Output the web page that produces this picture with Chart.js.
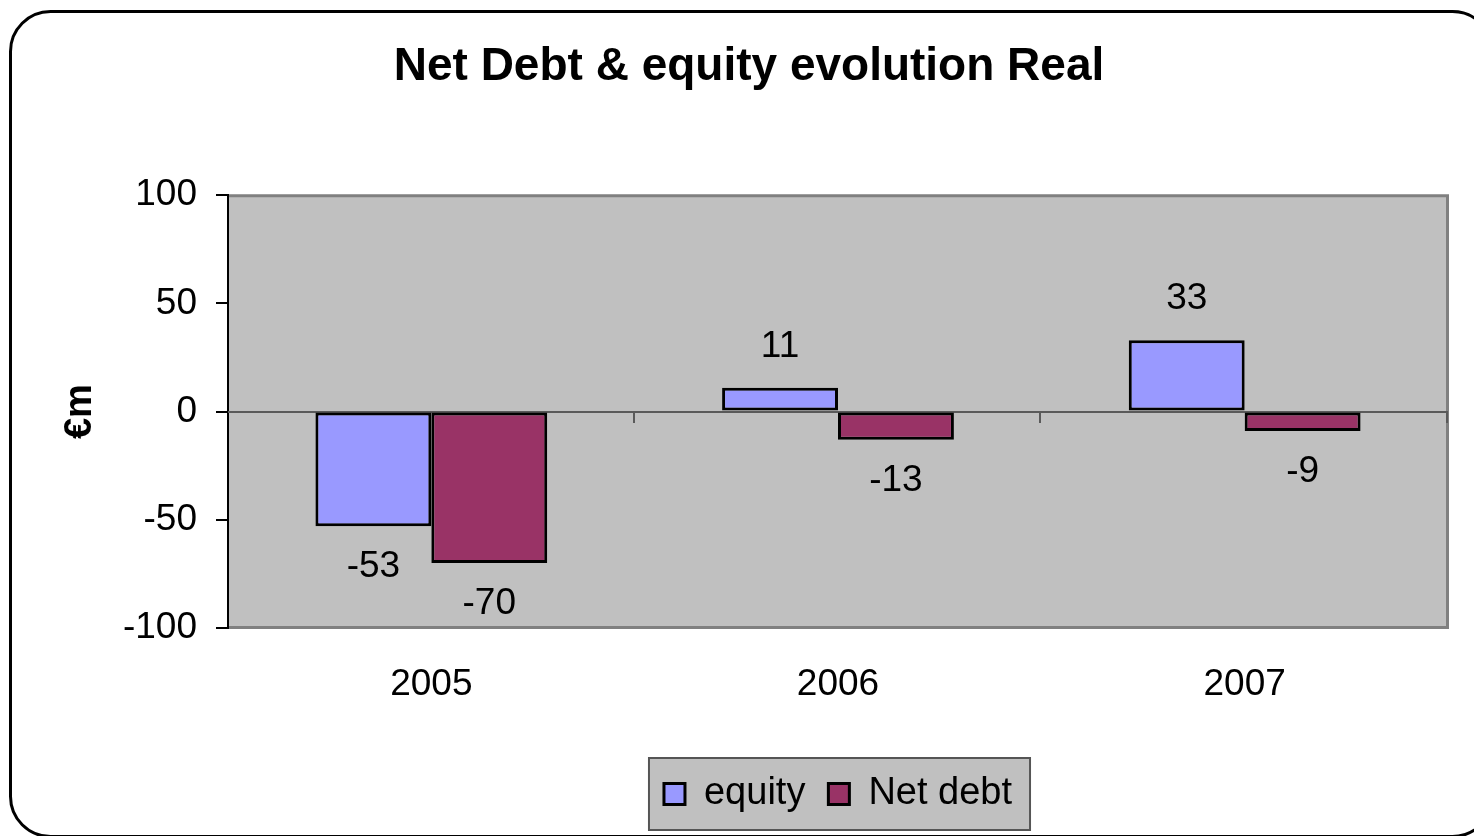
<!DOCTYPE html>
<html><head><meta charset="utf-8">
<script src="https://cdn.jsdelivr.net/npm/chart.js@4.4.1/dist/chart.umd.min.js"></script>
<style>html,body{margin:0;padding:0;background:#fff;} canvas{display:block;}</style>
</head><body>
<canvas id="c" width="1474" height="836"></canvas>
<script>
const categories = ['2005', '2006', '2007'];
const equityValues = [-53, 11, 33];
const netDebtValues = [-70, -13, -9];
const seriesNames = ['equity', 'Net debt'];
const yTickValues = [-100, -50, 0, 50, 100];
const chartTitle = 'Net Debt & equity evolution Real';
const axisTitle = '€m';

const FONT = "'Liberation Sans', Arial, sans-serif";
Chart.defaults.font.family = FONT;
Chart.defaults.color = '#000';

const framePlugin = {
  id: 'frame',
  beforeDraw(chart) {
    const {ctx, chartArea: a} = chart;
    ctx.save();
    ctx.fillStyle = '#fff';
    ctx.fillRect(0, 0, chart.width, chart.height);
    ctx.beginPath();
    ctx.roundRect(10.5, 11.5, 1482, 825, 40);
    ctx.lineWidth = 3; ctx.strokeStyle = '#000'; ctx.stroke();
    ctx.fillStyle = '#C0C0C0';
    ctx.fillRect(a.left, a.top, a.right - a.left, a.bottom - a.top);
    ctx.strokeStyle = '#808080'; ctx.lineWidth = 3;
    ctx.beginPath();
    ctx.moveTo(a.left, a.top + 0.5); ctx.lineTo(a.right - 0.5, a.top + 0.5);
    ctx.lineTo(a.right - 0.5, a.bottom - 0.5); ctx.lineTo(a.left, a.bottom - 0.5);
    ctx.stroke();
    const lg = chart.legend;
    if (lg && lg.legendHitBoxes && lg.legendHitBoxes.length) {
      const hb = lg.legendHitBoxes;
      const last = hb[hb.length - 1];
      const l = hb[0].left - 15, r = last.left + last.width + 18;
      const cy = hb[0].top + hb[0].height / 2;
      ctx.fillStyle = '#C0C0C0';
      ctx.fillRect(l, cy - 36, r - l, 72);
      ctx.strokeStyle = '#555'; ctx.lineWidth = 2;
      ctx.strokeRect(l, cy - 36, r - l, 72);
    }
    ctx.restore();
  },
  beforeDatasetsDraw(chart) {
    const {ctx, chartArea: a, scales: {x, y}} = chart;
    const y0 = Math.round(y.getPixelForValue(0));
    ctx.save();
    ctx.strokeStyle = '#5a5a5a'; ctx.lineWidth = 2;
    ctx.beginPath();
    ctx.moveTo(a.left, y0); ctx.lineTo(a.right, y0);
    for (let i = 0; i < categories.length; i++) {
      const xb = Math.round(x.getPixelForValue(i + 0.5)) - 1;
      ctx.moveTo(xb, y0); ctx.lineTo(xb, y0 + 11);
    }
    ctx.stroke();
    ctx.restore();
  },
  afterDatasetsDraw(chart) {
    const {ctx} = chart;
    ctx.save();
    ctx.font = '37px ' + FONT;
    ctx.fillStyle = '#000';
    ctx.textAlign = 'center';
    ctx.textBaseline = 'alphabetic';
    chart.data.datasets.forEach((ds, di) => {
      const meta = chart.getDatasetMeta(di);
      meta.data.forEach((bar, i) => {
        const v = ds.data[i];
        ctx.fillText(String(v), bar.x, v >= 0 ? bar.y - 31 : bar.y + 51);
      });
    });
    ctx.restore();
  }
};

new Chart(document.getElementById('c'), {
  type: 'bar',
  data: {
    labels: categories,
    datasets: [
      {label: seriesNames[0], data: equityValues, backgroundColor: '#9999FF', borderColor: '#000', borderWidth: 3, borderSkipped: false},
      {label: seriesNames[1], data: netDebtValues, backgroundColor: '#993366', borderColor: '#000', borderWidth: 3, borderSkipped: false}
    ]
  },
  options: {
    responsive: false,
    animation: false,
    devicePixelRatio: 1,
    layout: {padding: {left: 50, right: 26, top: 0, bottom: 13}},
    datasets: {bar: {categoryPercentage: 0.57, barPercentage: 1}},
    plugins: {
      title: {display: true, text: chartTitle, font: {size: 46, weight: 'bold'}, color: '#000', padding: {top: 40, bottom: 100}},
      legend: {
        position: 'bottom', fullSize: false,
        labels: {font: {size: 38, lineHeight: 1.1}, color: '#000', boxWidth: 21, boxHeight: 21, padding: 23}
      },
      tooltip: {enabled: false}
    },
    scales: {
      x: {
        grid: {display: false, drawTicks: false},
        border: {display: false},
        ticks: {font: {size: 37}, color: '#000', padding: 35},
        afterFit(s) { s.height = 124; }
      },
      y: {
        min: -100, max: 100,
        afterBuildTicks(s) { s.ticks = yTickValues.map(v => ({value: v})); },
        grid: {drawOnChartArea: false, drawTicks: true, tickLength: 12, color: '#000', lineWidth: 2},
        border: {display: true, color: '#000', width: 2},
        ticks: {font: {size: 37}, color: '#000', padding: 19},
        title: {display: true, text: axisTitle, font: {size: 38, weight: 'bold'}, color: '#000', padding: {top: 8, bottom: 0}},
        afterFit(s) { s.width = 178; }
      }
    }
  },
  plugins: [framePlugin]
});
</script>
</body></html>
